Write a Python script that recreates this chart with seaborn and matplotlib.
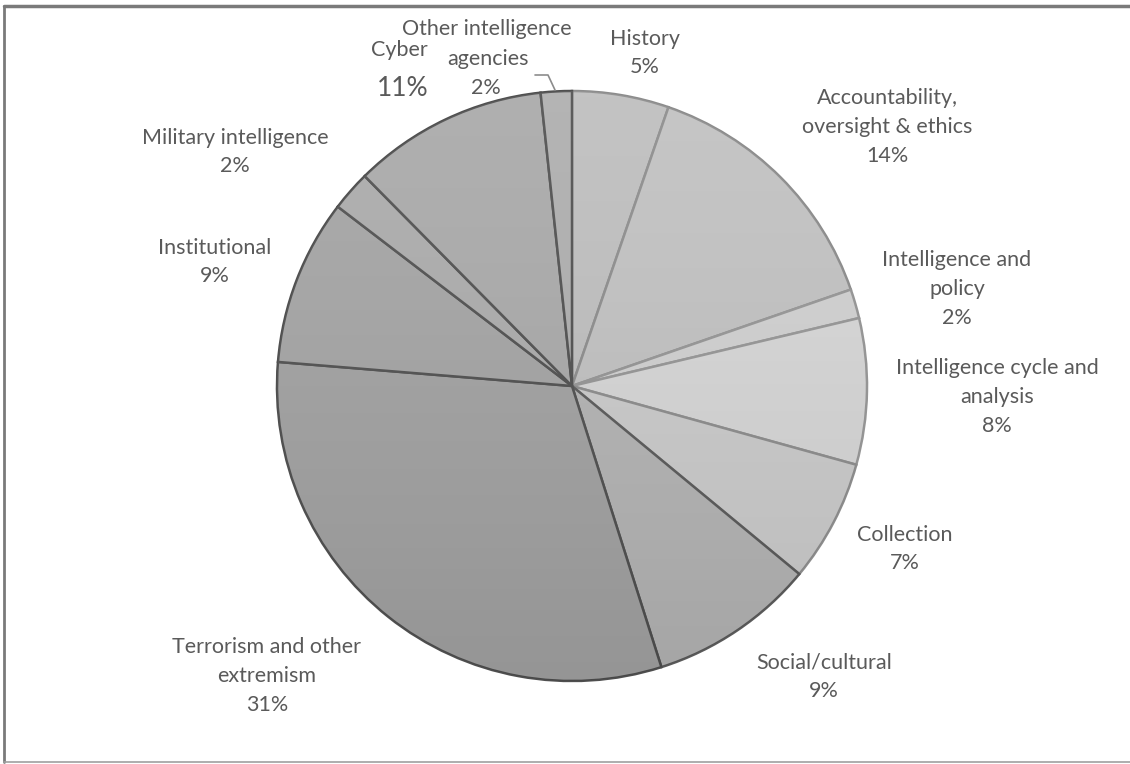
import matplotlib
matplotlib.use("Agg")
import matplotlib.pyplot as plt
import seaborn as sns
import numpy as np

# ---- data (clockwise from 12 o'clock) ----
categories = ["History", "Accountability,\noversight & ethics", "Intelligence and\npolicy",
              "Intelligence cycle and\nanalysis", "Collection", "Social/cultural",
              "Terrorism and other\nextremism", "Institutional", "Military intelligence",
              "Cyber", "Other intelligence\nagencies"]
shares = [5.3, 14.4, 1.6, 8.0, 6.7, 9.1, 31.2, 9.1, 2.2, 10.7, 1.7]

# ---- styling ----
sns.set_theme(style="white")
plt.rcParams["font.family"] = ["Lato", "DejaVu Sans"]

fill_colors = ["#bebebe", "#c1c1c1", "#d0d0d0", "#d6d6d6", "#cbcbcb", "#b4b4b4",
               "#a2a2a2", "#a4a4a4", "#ababab", "#a9a9a9", "#aeaeae"]
edge_colors = ["#8c8c8c", "#8c8c8c", "#959595", "#959595", "#8c8c8c", "#5a5a5a",
               "#4f4f4f", "#4f4f4f", "#4f4f4f", "#4f4f4f", "#4f4f4f"]
edge_z = [1, 1, 1, 1, 1, 2, 3, 3, 3, 3, 3]

W, H = 1130, 764
fig = plt.figure(figsize=(W / 100, H / 100), dpi=100)
fig.patch.set_facecolor("white")
ax = fig.add_axes([0, 0, 1, 1])

cx, cy, r = 572, H - 386, 295
wedges, _ = ax.pie(shares, startangle=90, counterclock=False, colors=fill_colors,
                   center=(cx, cy), radius=r, frame=True,
                   wedgeprops=dict(linewidth=1.8))
for w, ec, z in zip(wedges, edge_colors, edge_z):
    w.set_edgecolor(ec)
    w.set_zorder(z)

# subtle vertical shading over the pie
grad = np.linspace(0, 1, 256).reshape(-1, 1)
img = ax.imshow(grad, extent=(cx - r, cx + r, cy - r, cy + r), cmap="Greys",
                alpha=0.08, vmin=0, vmax=1, origin="upper", zorder=4, aspect="auto")
circ = plt.Circle((cx, cy), r, transform=ax.transData)
img.set_clip_path(circ)

ax.set_xlim(0, W)
ax.set_ylim(0, H)
ax.set_aspect("equal")
ax.axis("off")

# ---- labels ----
text_color = "#5a5a5a"
fs = 15.5
label_pos = [(645, 53), (887, 127), (957, 289), (997, 397), (905, 549), (824, 677),
             (267, 676), (215, 262), (235, 152), None, None]
for name, v, pos in zip(categories, shares, label_pos):
    pct = f"{round(v)}%"
    if pos is None:
        continue
    ax.text(pos[0], H - pos[1], f"{name}\n{pct}", ha="center", va="center",
            multialignment="center", fontsize=fs, color=text_color, linespacing=1.55)

# Cyber label (name and value placed apart, value larger)
ax.text(399, H - 50, categories[9], ha="center", va="center", fontsize=fs, color=text_color)
ax.text(403, H - 88, f"{round(shares[9])}%", ha="center", va="center", fontsize=19,
        color=text_color)

# "Other intelligence agencies" label, one text per line
other_lines = categories[10].split("\n") + [f"{round(shares[10])}%"]
for line, (lx, ly) in zip(other_lines, [(487, 29), (488, 59), (486, 88)]):
    ax.text(lx, H - ly, line, ha="center", va="center", fontsize=fs, color=text_color)

# leader line for "Other intelligence agencies"
ax.plot([535, 548, 555], [H - 75, H - 75, H - 90], color="#8c8c8c", lw=1.2, zorder=5)

# outer frame
ax.plot([4, W], [H - 6, H - 6], color="#7a7a7a", lw=2.5, clip_on=False, zorder=6)
ax.plot([4, 4], [H - 6, H - 762], color="#7a7a7a", lw=2.0, clip_on=False, zorder=6)
ax.plot([4, W], [H - 762, H - 762], color="#a0a0a0", lw=1.2, clip_on=False, zorder=6)

fig.savefig("out.png", dpi=100, facecolor="white")
